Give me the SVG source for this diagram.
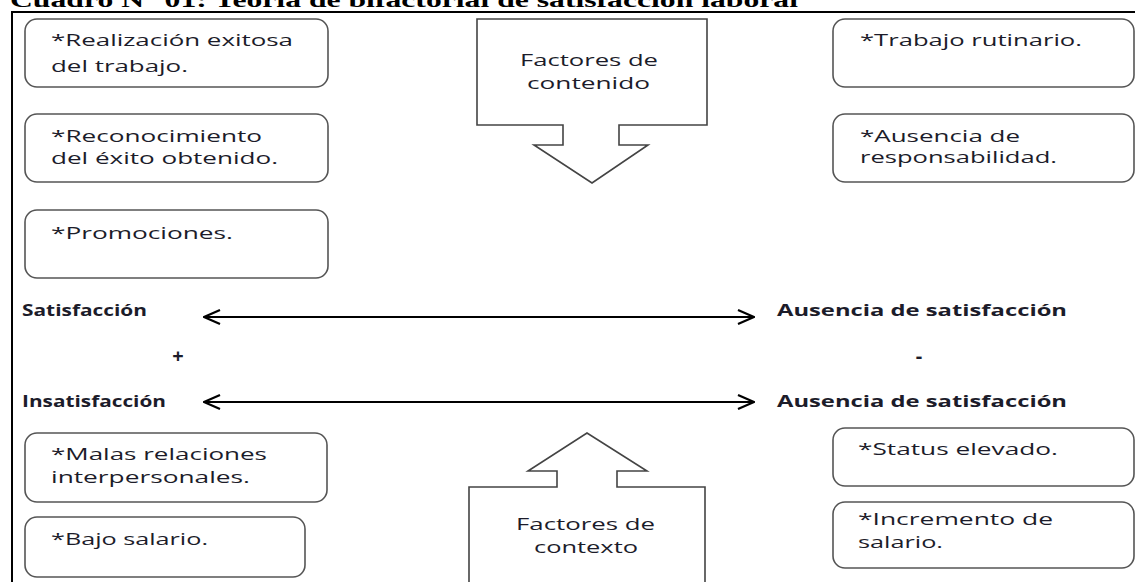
<svg xmlns="http://www.w3.org/2000/svg" width="1135" height="582" viewBox="0 0 1135 582">
<style>
.frame{fill:none;stroke:#000;stroke-width:2}
.box{fill:#fff;stroke:#555;stroke-width:1.6}
.blk{fill:#fff;stroke:#444;stroke-width:1.6}
.t{font-family:"Open Sans","Liberation Sans",Arial,sans-serif;font-size:16.5px;fill:#1c1c2a}
.b{font-family:"Open Sans","Liberation Sans",Arial,sans-serif;font-size:16.5px;font-weight:bold;fill:#1c1c2a}
.title{font-family:"Liberation Serif","Times New Roman",serif;font-size:22px;font-weight:bold;fill:#000}
.conn{stroke:#000;stroke-width:2;fill:none}
</style>
<defs>
<marker id="head" viewBox="0 0 18 16" refX="17" refY="8" markerWidth="18" markerHeight="16" markerUnits="userSpaceOnUse" orient="auto-start-reverse">
<path d="M1,1 L17,8 L1,15" fill="none" stroke="#000" stroke-width="2.2"/>
</marker>
</defs>
<rect width="1135" height="582" fill="#fff"/>
<text class="title" x="10" y="7" textLength="788" lengthAdjust="spacingAndGlyphs">Cuadro N° 01: Teoría de bifactorial de satisfacción laboral</text>
<path class="frame" d="M12,582 L12,12 L1135,12"/>

<g id="n-realizacion">
<rect class="box" x="25" y="19" width="303" height="68" rx="12"/>
<text class="t" x="51" y="46" textLength="242" lengthAdjust="spacingAndGlyphs">*Realización exitosa</text>
<text class="t" x="51" y="72" textLength="137" lengthAdjust="spacingAndGlyphs">del trabajo.</text>
</g>
<g id="n-reconocimiento">
<rect class="box" x="25" y="114" width="303" height="68" rx="12"/>
<text class="t" x="51" y="142" textLength="211" lengthAdjust="spacingAndGlyphs">*Reconocimiento</text>
<text class="t" x="51" y="164" textLength="227" lengthAdjust="spacingAndGlyphs">del éxito obtenido.</text>
</g>
<g id="n-promociones">
<rect class="box" x="25" y="210" width="303" height="68" rx="12"/>
<text class="t" x="51" y="239" textLength="182" lengthAdjust="spacingAndGlyphs">*Promociones.</text>
</g>
<g id="n-rutinario">
<rect class="box" x="833" y="19" width="301" height="68" rx="12"/>
<text class="t" x="860" y="46" textLength="222" lengthAdjust="spacingAndGlyphs">*Trabajo rutinario.</text>
</g>
<g id="n-responsabilidad">
<rect class="box" x="833" y="114" width="301" height="68" rx="12"/>
<text class="t" x="860" y="142" textLength="160" lengthAdjust="spacingAndGlyphs">*Ausencia de</text>
<text class="t" x="860" y="163" textLength="197" lengthAdjust="spacingAndGlyphs">responsabilidad.</text>
</g>

<g id="n-contenido">
<polygon class="blk" points="477,19 707,19 707,125 619,125 619,145 648,145 592,183 534,145 563,145 563,125 477,125"/>
<text class="t" x="520" y="66" textLength="138" lengthAdjust="spacingAndGlyphs">Factores de</text>
<text class="t" x="527" y="89" textLength="123" lengthAdjust="spacingAndGlyphs">contenido</text>
</g>

<g id="n-satisfaccion">
<text class="b" x="22" y="316" textLength="125" lengthAdjust="spacingAndGlyphs">Satisfacción</text>
</g>
<g id="n-plus">
<text class="b" x="178" y="363" text-anchor="middle" style="font-size:20px">+</text>
</g>
<g id="n-insatisfaccion">
<text class="b" x="22" y="407" textLength="144" lengthAdjust="spacingAndGlyphs">Insatisfacción</text>
</g>
<g id="n-ausencia1">
<text class="b" x="777" y="316" textLength="290" lengthAdjust="spacingAndGlyphs">Ausencia de satisfacción</text>
</g>
<g id="n-minus">
<text class="b" x="919" y="363" text-anchor="middle" style="font-size:20px">-</text>
</g>
<g id="n-ausencia2">
<text class="b" x="777" y="407" textLength="290" lengthAdjust="spacingAndGlyphs">Ausencia de satisfacción</text>
</g>

<g id="connectors">
<line class="conn" x1="204" y1="317" x2="754" y2="317" marker-start="url(#head)" marker-end="url(#head)"/>
<line class="conn" x1="204" y1="402" x2="754" y2="402" marker-start="url(#head)" marker-end="url(#head)"/>
</g>

<g id="n-malas">
<rect class="box" x="25" y="433" width="302" height="69" rx="12"/>
<text class="t" x="51" y="460" textLength="216" lengthAdjust="spacingAndGlyphs">*Malas relaciones</text>
<text class="t" x="51" y="483" textLength="199" lengthAdjust="spacingAndGlyphs">interpersonales.</text>
</g>
<g id="n-bajo">
<rect class="box" x="25" y="517" width="280" height="60" rx="12"/>
<text class="t" x="51" y="545" textLength="157" lengthAdjust="spacingAndGlyphs">*Bajo salario.</text>
</g>
<g id="n-contexto">
<polygon class="blk" points="469,592 469,487 557,487 557,471 528,471 587,433 647,471 617,471 617,487 705,487 705,592"/>
<text class="t" x="516" y="530" textLength="139" lengthAdjust="spacingAndGlyphs">Factores de</text>
<text class="t" x="534" y="553" textLength="104" lengthAdjust="spacingAndGlyphs">contexto</text>
</g>
<g id="n-status">
<rect class="box" x="833" y="428" width="301" height="58" rx="12"/>
<text class="t" x="858" y="455" textLength="200" lengthAdjust="spacingAndGlyphs">*Status elevado.</text>
</g>
<g id="n-incremento">
<rect class="box" x="833" y="502" width="301" height="66" rx="12"/>
<text class="t" x="858" y="525" textLength="195" lengthAdjust="spacingAndGlyphs">*Incremento de</text>
<text class="t" x="858" y="548" textLength="85" lengthAdjust="spacingAndGlyphs">salario.</text>
</g>
</svg>
